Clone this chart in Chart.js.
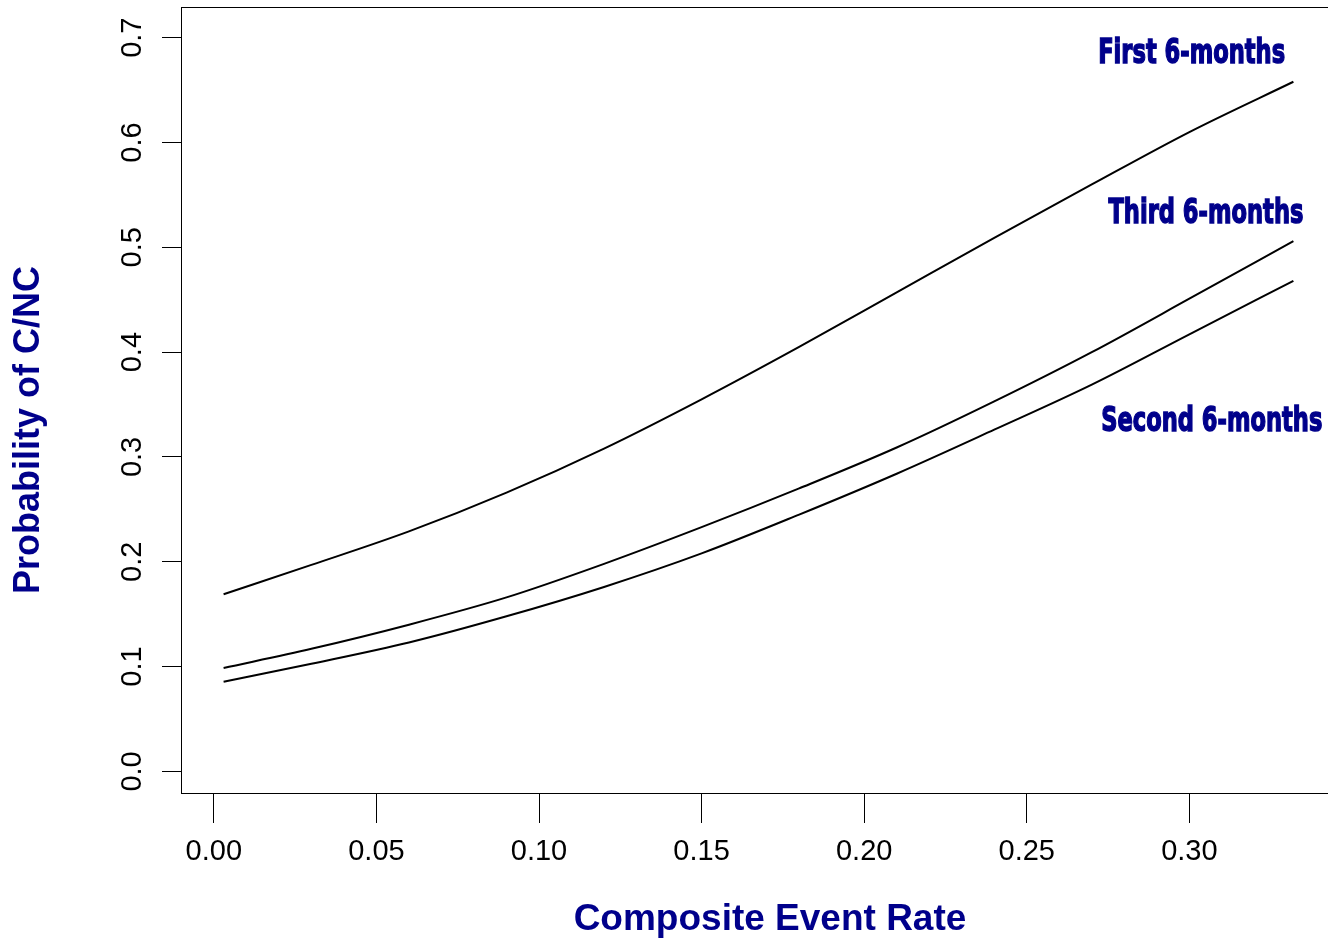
<!DOCTYPE html>
<html><head><meta charset="utf-8">
<script src="https://cdn.jsdelivr.net/npm/chart.js@4.4.1/dist/chart.umd.min.js"></script>
<style>
html,body{margin:0;padding:0;background:#fff;overflow:hidden;}
#wrap{width:1340px;height:943px;}
</style></head><body>
<div id="wrap"><canvas id="c" width="1340" height="943" style="width:1340px;height:943px"></canvas></div>
<script>
// ---- data ----
const rate = [0.003, 0.03, 0.06, 0.09, 0.12, 0.15, 0.18, 0.21, 0.24, 0.27, 0.30, 0.332];
const firstSix  = [0.169, 0.197, 0.229, 0.266, 0.308, 0.355, 0.405, 0.457, 0.509, 0.560, 0.610, 0.658];
const secondSix = [0.0855, 0.1027, 0.123, 0.148, 0.176, 0.208, 0.245, 0.284, 0.326, 0.369, 0.417, 0.468];
const thirdSix  = [0.0987, 0.117, 0.140, 0.166, 0.198, 0.233, 0.270, 0.309, 0.353, 0.400, 0.451, 0.506];
const xTicks = [0, 0.05, 0.10, 0.15, 0.20, 0.25, 0.30];
const yTicks = [0, 0.1, 0.2, 0.3, 0.4, 0.5, 0.6, 0.7];
const seriesNames = ['First 6-months', 'Second 6-months', 'Third 6-months'];
const labelRate = [0.3007, 0.3069, 0.3051];
const labelProb = [0.6841, 0.3328, 0.5316];
const xTitle = 'Composite Event Rate';
const yTitle = 'Probability of C/NC';

const sans = '"Liberation Sans", Arial, Helvetica, sans-serif';
const navy = '#00008B';

const toPts = arr => rate.map((r, i) => ({x: r, y: arr[i]}));

const annot = {
  id: 'annot',
  afterDatasetsDraw(chart) {
    const {ctx, scales: {x, y}, chartArea: a} = chart;
    ctx.save();
    ctx.strokeStyle = '#000';
    ctx.lineWidth = 1;
    ctx.strokeRect(Math.round(a.left) + 0.5, Math.round(a.top) + 0.5,
                   Math.round(a.right - a.left), Math.round(a.bottom - a.top));
    // series labels
    ctx.font = '700 34px "DejaVu Sans", sans-serif';
    const sx = 187 / ctx.measureText(seriesNames[0]).width;
    ctx.fillStyle = navy;
    ctx.strokeStyle = navy;
    ctx.lineWidth = 1.6;
    ctx.textAlign = 'center';
    ctx.textBaseline = 'middle';
    seriesNames.forEach((t, i) => {
      const px = x.getPixelForValue(labelRate[i]);
      const py = y.getPixelForValue(labelProb[i]);
      ctx.save();
      ctx.translate(px, py);
      ctx.scale(sx, 1);
      ctx.fillText(t, 0, 0);
      ctx.strokeText(t, 0, 0);
      ctx.restore();
    });
    // axis titles
    ctx.font = 'bold 37px ' + sans;
    ctx.fillText(xTitle, 770, 920);
    ctx.save();
    ctx.translate(29, 430);
    ctx.rotate(-Math.PI / 2);
    ctx.font = 'bold 36px ' + sans;
    ctx.fillText(yTitle, 0, 0);
    ctx.restore();
    ctx.restore();
  }
};

new Chart(document.getElementById('c'), {
  type: 'line',
  data: {
    datasets: [
      {label: seriesNames[0], data: toPts(firstSix)},
      {label: seriesNames[1], data: toPts(secondSix)},
      {label: seriesNames[2], data: toPts(thirdSix)}
    ].map(d => Object.assign(d, {borderColor: '#000', borderWidth: 2, pointRadius: 0, fill: false, cubicInterpolationMode: 'monotone'}))
  },
  options: {
    responsive: false,
    animation: false,
    layout: {padding: {left: 0, right: 4, top: 7, bottom: 0}},
    plugins: {legend: {display: false}, tooltip: {enabled: false}},
    scales: {
      x: {
        type: 'linear', min: -0.0101, max: 0.3451,
        afterBuildTicks: s => { s.ticks = xTicks.map(v => ({value: v})); },
        afterFit: s => { s.height = 150; s.paddingLeft = 0; s.paddingRight = 0; },
        grid: {display: true, drawOnChartArea: false, drawTicks: true, tickLength: 30, color: '#000', lineWidth: 1},
        border: {display: false},
        ticks: {padding: 12, color: '#000', autoSkip: false, maxRotation: 0,
                font: {family: sans, size: 29}, callback: v => Number(v).toFixed(2)},
        title: {display: false, text: xTitle}
      },
      y: {
        type: 'linear', min: -0.0206, max: 0.7293,
        afterBuildTicks: s => { s.ticks = yTicks.map(v => ({value: v})); },
        afterFit: s => { s.width = 181; s.paddingTop = 0; s.paddingBottom = 0; },
        grid: {display: true, drawOnChartArea: false, drawTicks: true, tickLength: 19, color: '#000', lineWidth: 1},
        border: {display: false},
        ticks: {padding: 9, color: '#000', minRotation: 90, maxRotation: 90, crossAlign: 'center',
                font: {family: sans, size: 29}, callback: v => Number(v).toFixed(1)},
        title: {display: false, text: yTitle}
      }
    }
  },
  plugins: [annot]
});
</script>
</body></html>
